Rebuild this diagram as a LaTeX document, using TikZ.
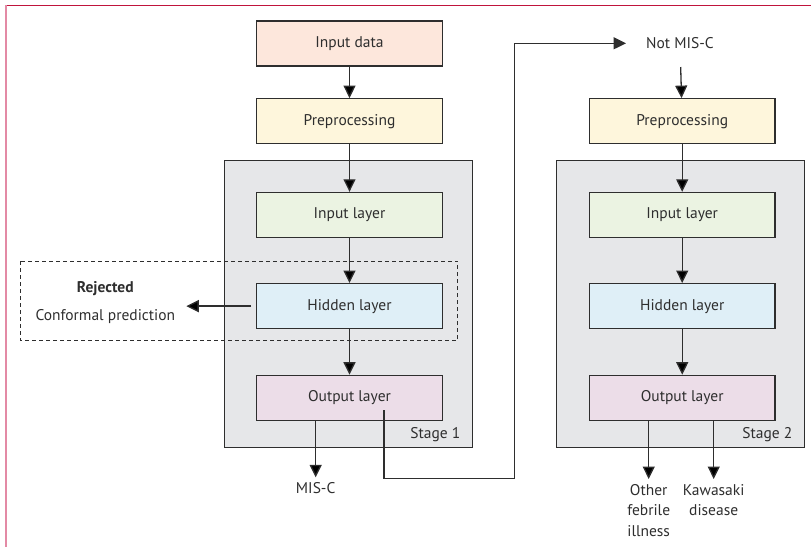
\documentclass[tikz,border=0pt]{standalone}
\usepackage{fontspec}
\setmainfont{PT Sans}
\usetikzlibrary{positioning, arrows.meta}
\definecolor{framered}{HTML}{C0143C}
\definecolor{framepink}{HTML}{E38AA5}
\definecolor{edgegray}{HTML}{2E2E2E}
\definecolor{datafill}{HTML}{FDE7DC}
\definecolor{prefill}{HTML}{FEF6DC}
\definecolor{infill}{HTML}{EBF3E2}
\definecolor{hidfill}{HTML}{DFEFF7}
\definecolor{outfill}{HTML}{ECDDE8}
\definecolor{stagefill}{HTML}{E6E7E9}
\tikzset{layer node/.style={rectangle,draw=edgegray,line width=1.2pt,minimum width=185.5pt,minimum height=45pt,inner sep=0pt,font=\fontsize{15.5}{18}\selectfont,text=edgegray},
  stage box/.style={rectangle,draw=edgegray,fill=stagefill,line width=1.2pt,inner sep=0pt,minimum width=248.4pt,minimum height=287pt},
  label node/.style={font=\fontsize{15.5}{20.7}\selectfont,text=edgegray,align=center,inner sep=5pt},
  arrow tip/.style={-{Triangle[length=12.5pt,width=12pt]}},
  arrow/.style={draw=edgegray,line width=1.3pt,arrow tip},
  flow/.style={draw=edgegray,line width=1.3pt,every edge/.append style={arrow tip}}}

\begin{document}
\begin{tikzpicture}[x=1pt,y=-1pt]
            \useasboundingbox (0,0) rectangle (811,547);
            \draw[framered, line width=1.5pt] (5,5.5) -- (811,5.5);
            \draw[framepink, line width=2.2pt] (6,5) -- (6,547);

            \node[stage box] (stage1) at (348.5,303.8) {};
            \node[stage box] (stage2) at (680.5,303.8) {};
            \node[label node, anchor=base east, inner sep=0pt] (stagelabel1) at ([xshift=-12.7pt,yshift=9.5pt]stage1.south east) {Stage 1};
            \node[label node, anchor=base east, inner sep=0pt] (stagelabel2) at ([xshift=-12.7pt,yshift=9.5pt]stage2.south east) {Stage 2};

            \draw[edgegray, line width=1.1pt, dashed, dash pattern=on 4pt off 3pt] (20.7,261.3) rectangle (457.7,340.7);

            \node[layer node, fill=datafill] (indata) at (349.5,43.5) {Input data};
            \node[layer node, fill=prefill] (pre1) [below = 31.5pt of indata] {Preprocessing};
            \node[layer node, fill=infill] (inlay1) [below = 47.5pt of pre1] {Input layer};
            \node[layer node, fill=hidfill] (hid1) [below = 45pt of inlay1] {Hidden layer};
            \node[layer node, fill=outfill] (out1) [below = 45.5pt of hid1] {Output layer};

            \node[layer node, fill=prefill] (pre2) [right = 146pt of pre1] {Preprocessing};
            \node[layer node, fill=infill] (inlay2) [below = 47.5pt of pre2] {Input layer};
            \node[layer node, fill=hidfill] (hid2) [below = 45pt of inlay2] {Hidden layer};
            \node[layer node, fill=outfill] (out2) [below = 45.5pt of hid2] {Output layer};

            \node[label node, inner xsep=20pt, minimum height=47pt] (notmisc) at (680,43.3) {Not MIS-C};
            \node[label node, inner sep=0pt] (rejected) at (105.3,302.7) {\textbf{Rejected}\\[7.3pt]Conformal prediction};
            \node[label node, anchor=north] (misc) at (315.7,477.3) {MIS-C};
            \node[label node, anchor=north] (other) at (648.7,479) {Other\\febrile\\illness};
            \node[label node, anchor=north] (kawasaki) at (713.7,479) {Kawasaki\\disease};
            \coordinate (loopturn) at (514.7,478.3);

            \path[flow]
            (indata) edge (pre1)
            (pre1) edge (inlay1)
            (inlay1) edge (hid1)
            (hid1) edge (out1)
            (notmisc) edge (pre2)
            (pre2) edge (inlay2)
            (inlay2) edge (hid2)
            (hid2) edge (out2)
            ([xshift=-5pt]hid1.west) edge ([xshift=11pt]hid1.west -| rejected.east)
            (out1.south -| misc.north) edge (misc.north)
            (out2.south -| other.north) edge (other.north)
            (out2.south -| kawasaki.north) edge (kawasaki.north);

            \draw[arrow] ([xshift=34.5pt,yshift=10.6pt]out1.south) |- (loopturn) |- (notmisc.west);
        \end{tikzpicture}
\end{document}
